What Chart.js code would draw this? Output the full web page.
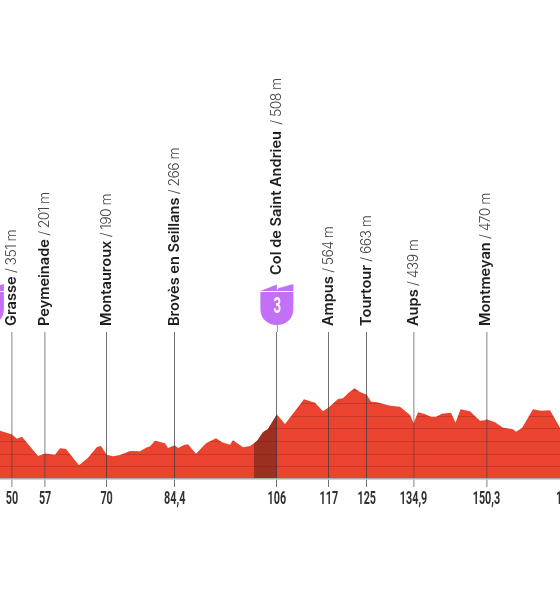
<!DOCTYPE html>
<html>
<head>
<meta charset="utf-8">
<script src="https://cdn.jsdelivr.net/npm/chart.js@4"></script>
<style>
html,body{margin:0;padding:0;background:#fff;overflow:hidden;width:560px;height:600px}
#wrap{position:relative;width:560px;height:600px;overflow:hidden}
canvas{position:absolute;left:-60px;top:0}
</style>
</head>
<body>
<div id="wrap"><canvas id="c" width="680" height="600"></canvas></div>
<script>
const profileKm = [47,47.46,50,51.06,52.11,55.5,57,59.09,60.15,61.42,64.17,66.07,67.97,68.82,70,71.35,72.83,74.95,77.06,78.33,79.18,80.23,82.35,82.98,84.4,85.1,86.36,87.21,88.9,91.02,93.13,94.4,96.09,96.72,98.84,100.32,101.16,101.8,103.07,104.12,106,107.72,111.73,114.06,115.75,117,118.92,119.98,121.04,122.41,123.57,125,125.9,127.17,129.92,132.03,134.15,134.9,135.84,137.1,138.59,139.64,140.9,142.81,143.76,144.82,146.83,148.94,150,150.3,152.12,153.8,155.92,156.55,157.82,160.15,161.84,163.74,165.85,166.5];
const profileM = [385,380,351,317,333,181,201,191,242,236,108,168,252,260,190,179,189,220,218,246,257,302,281,244,266,244,268,273,199,281,320,289,270,305,250,260,282,299,368,394,508,433,628,601,533,564,630,635,675,714,685,663,609,604,577,569,504,439,525,514,491,491,514,522,443,549,533,459,462,470,446,404,391,372,402,549,538,541,404,365];
const climbKm = [101.16,101.8,103.07,104.12,106];
const climbM = [282,299,368,394,508];
const tickKm = [50,57,70,84.4,106,117,125,134.9,150.3,167];
const tickLabels = ["50","57","70","84,4","106","117","125","134,9","150,3","167"];
const placeKm = [50,57,70,84.4,106,117,125,134.9,150.3];
const placeNames = ["Grasse","Peymeinade","Montauroux","Brovès en Seillans","Col de Saint Andrieu","Ampus","Tourtour","Aups","Montmeyan"];
const placeHeights = ["351 m","201 m","190 m","266 m","508 m","564 m","663 m","439 m","470 m"];
const badgeKm = [44.8,106];
const badgeLabels = ["","3"];
const gridLevels = [100,200,300,400,500,600,700];

const RED='#EA432F', DARK='#9C2F20', PURPLE='#C270F6';

function narrowText(ctx,text,px,py,size,color){
  ctx.save();
  ctx.translate(px,py);
  ctx.scale(0.6,1);
  ctx.font='700 '+size+'px Roboto';
  ctx.fillStyle=color;
  ctx.textAlign='center';ctx.textBaseline='middle';
  ctx.fillText(text,0,0);
  ctx.restore();
}

const overlay = {
  id:'overlay',
  afterDatasetsDraw(chart){
    const {ctx,scales:{x,y},chartArea:a}=chart;
    const pts=chart.getDatasetMeta(0).data;
    ctx.save();
    ctx.beginPath();
    ctx.moveTo(pts[0].x,a.bottom);
    pts.forEach(p=>ctx.lineTo(p.x,p.y));
    ctx.lineTo(pts[pts.length-1].x,a.bottom);
    ctx.closePath();
    ctx.clip();
    ctx.strokeStyle='rgba(110,25,15,0.28)';
    ctx.lineWidth=1;
    gridLevels.forEach(v=>{
      const py=Math.round(y.getPixelForValue(v))+0.5;
      ctx.beginPath();ctx.moveTo(a.left,py);ctx.lineTo(a.right,py);ctx.stroke();
    });
    ctx.restore();
  },
  afterDraw(chart){
    const {ctx,scales:{x},chartArea:a}=chart;
    tickKm.forEach((km,i)=>narrowText(ctx,tickLabels[i],x.getPixelForValue(km),499,18,'#333'));
    placeKm.forEach((km,i)=>{
      const px=x.getPixelForValue(km);
      const hasBadge=badgeKm.includes(km);
      ctx.save();
      ctx.translate(px+4,hasBadge?275:326);
      ctx.rotate(-Math.PI/2);
      ctx.textBaseline='alphabetic';ctx.textAlign='left';
      ctx.font='600 14.6px Inter';
      ctx.fillStyle='#1e1e1e';
      ctx.fillText(placeNames[i],0,0);
      const w=ctx.measureText(placeNames[i]).width;
      ctx.font='300 14px Inter';
      ctx.letterSpacing='-0.6px';
      ctx.fillStyle='#444';
      ctx.fillText(' / '+placeHeights[i],w+(hasBadge?3:0),0);
      ctx.letterSpacing='0px';
      ctx.restore();
    });
    badgeKm.forEach((km,i)=>{
      const cx=x.getPixelForValue(km);
      ctx.save();
      ctx.translate(cx,0);
      ctx.strokeStyle='rgba(90,90,90,0.6)';ctx.lineWidth=1;
      if(badgeLabels[i]){ctx.beginPath();ctx.moveTo(0.5,325);ctx.lineTo(0.5,a.top);ctx.stroke();}
      ctx.fillStyle=PURPLE;
      ctx.beginPath();
      ctx.moveTo(-16.5,291);ctx.lineTo(0,284.5);ctx.lineTo(0,290);ctx.lineTo(2,288);ctx.lineTo(16.5,284);ctx.lineTo(16.5,291);
      ctx.closePath();ctx.fill();
      ctx.beginPath();
      ctx.moveTo(-16.5,292);ctx.lineTo(16.5,292);ctx.lineTo(16.5,309);
      ctx.bezierCurveTo(16.5,319,9,325,0,325);
      ctx.bezierCurveTo(-9,325,-16.5,319,-16.5,309);
      ctx.closePath();ctx.fill();
      if(badgeLabels[i]) narrowText(ctx,badgeLabels[i],0.5,307,22,'#fff');
      ctx.restore();
    });
  }
};

const wide=new Set(["50","57","134,9","150,3"]);
new Chart(document.getElementById('c'),{
  type:'line',
  data:{datasets:[
    {data:profileKm.map((k,i)=>({x:k,y:profileM[i]})),backgroundColor:RED,borderWidth:0,pointRadius:0,tension:0,fill:'origin',order:1},
    {data:climbKm.map((k,i)=>({x:k,y:climbM[i]})),backgroundColor:DARK,borderWidth:0,pointRadius:0,tension:0,fill:'origin',order:0}
  ]},
  options:{
    responsive:false,animation:false,devicePixelRatio:1,
    layout:{padding:{top:332,left:0,right:0,bottom:0}},
    plugins:{legend:{display:false},tooltip:{enabled:false},title:{display:false}},
    scales:{
      x:{
        type:'linear',min:34.78,max:178.54,
        afterBuildTicks:s=>{s.ticks=tickKm.map(v=>({value:v}));},
        afterFit:s=>{s.height=121;},
        border:{color:'#a9a9a9',width:1.5,z:2},
        grid:{z:1,tickLength:8,
          color:c=>wide.has(tickLabels[c.index])?'rgba(70,70,70,0.42)':'rgba(60,60,60,0.72)',
          tickColor:c=>wide.has(tickLabels[c.index])?'rgba(70,70,70,0.42)':'rgba(60,60,60,0.72)',
          lineWidth:c=>wide.has(tickLabels[c.index])?1.6:1},
        ticks:{display:false,autoSkip:false,maxRotation:0,callback:(v,i)=>tickLabels[i]}
      },
      y:{display:false,min:0,max:1157.5}
    }
  },
  plugins:[overlay]
});
</script>
</body>
</html>
